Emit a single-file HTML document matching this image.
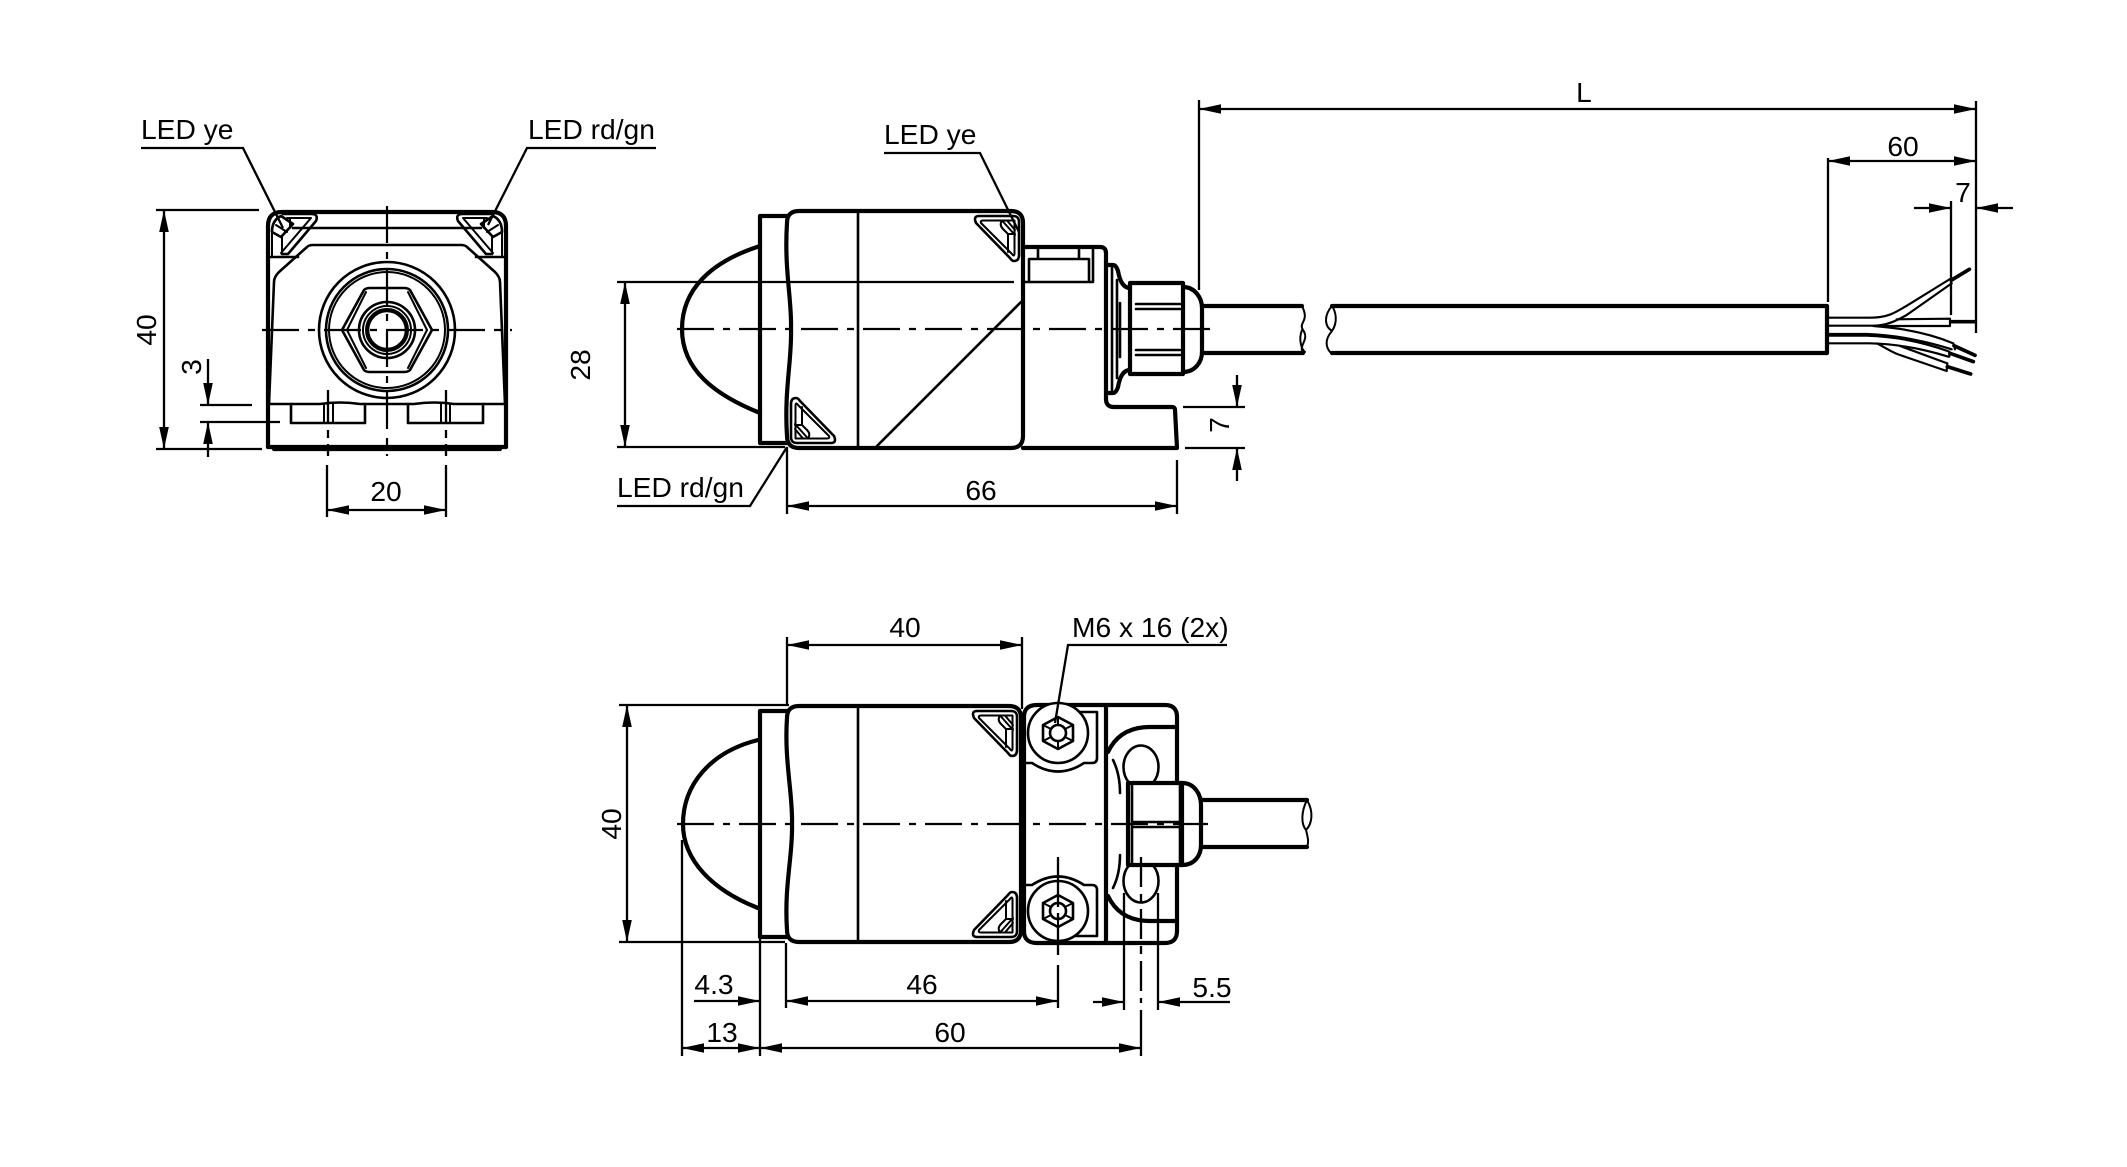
<!DOCTYPE html>
<html><head><meta charset="utf-8"><style>
html,body{margin:0;padding:0;background:#fff}
svg{display:block}
text{font-family:"Liberation Sans",sans-serif;font-size:28.2px;fill:#000}
.k{stroke:#000;fill:none;stroke-linecap:round;stroke-linejoin:round}
.t{stroke-width:4.2}
.m{stroke-width:2.6}
.s{stroke-width:2}
.w{fill:#fff}
.c{stroke:#000;stroke-width:2.2;fill:none;stroke-dasharray:37 9 7 9}
.d{stroke:#000;stroke-width:2.3;fill:none}
</style></head><body>
<svg xmlns="http://www.w3.org/2000/svg" width="2127" height="1167" viewBox="0 0 2127 1167">
<defs>
<marker id="a" markerUnits="userSpaceOnUse" markerWidth="24" markerHeight="12" refX="22" refY="5.5" orient="auto-start-reverse"><path d="M22,5.5 L0,0.7 L0,10.3Z" fill="#000"/></marker>
<g id="led">
<path class="k m" d="M-44,5 H-10 Q-4,5 -4,11 V44 Q-4,50 -9,50 Q-11,50 -13,47 L-47,12 Q-50,5 -44,5Z"/>
<path class="k s" d="M-40,9.5 H-8.5 V43 Q-9,46 -11,43 L-42,12 Q-43,9.5 -40,9.5Z"/>
<path class="k s" d="M-21,9.5 Q-24,14 -20,18 L-15,23 H-8 M-15,23 V41 M-21,9.5 L-8,24 M-16,9.5 L-8,19"/>
</g>
</defs>

<!-- FRONT VIEW -->
<path class="k t" d="M268,447 V226 Q268,212 282,212 H492 Q506,212 506,226 V447"/>
<path class="k t" d="M268,447 L506,447 M274,449 H500"/>
<path class="k m" d="M268,257 H298 M476,257 H506 M293,228 H481"/>
<path class="k m" d="M269,404 L274,282 Q274,277 279,272 L307,247 Q309,245 313,245 H461 Q465,245 467,247 L495,272 Q500,277 500,282 L505,404"/>
<path class="k m" d="M269,404 H320 Q340,401 360,404 H414 Q434,401 454,404 H505"/>
<path class="k m" d="M291,404 V423 H365 V404 M408,404 V423 H483 V404"/>
<path class="k s" d="M324,404 V423 M333,404 V423 M441,404 V423 M450,404 V423"/>
<g id="fl"><path class="k m" d="M283,214 H311 Q319,214 316,221 L288,254 H282"/>
<path class="k s" d="M287,218 H311 L281,253"/>
<path class="k m" d="M272,232 Q272,220 281,216 L293,224 L281,237 Z"/>
<path class="k s" d="M282,237 V254 M272,232 V257 M290,218 V228 M276,225 L287,232"/></g>
<use href="#fl" transform="translate(774,0) scale(-1,1)"/>
<circle class="k m" cx="387" cy="330" r="68"/>
<circle class="k m" cx="387" cy="330" r="61"/>
<circle class="k s" cx="387" cy="330" r="58"/>
<path class="k m" d="M342,330 L364,290 Q366,288 370,288 H404 Q408,288 410,290 L432,330 L410,370 Q408,372 404,372 H370 Q366,372 364,370Z"/>
<path class="k s" d="M347,330 L366,292 M427,330 L408,292 M347,330 L366,368 M427,330 L408,368"/>
<circle class="k m" cx="387" cy="330" r="28"/>
<circle class="k s" cx="387" cy="330" r="24"/>
<circle class="k s" cx="387" cy="330" r="21"/>
<circle class="k m" cx="387" cy="330" r="19"/>
<path class="c" d="M262,330 H512 M387,206 V456"/>
<path class="d" d="M328,390 V456" stroke-dasharray="34 6 8 6"/>
<path class="d" d="M446,390 V456" stroke-dasharray="34 6 8 6"/>
<!-- front dims -->
<path class="d" d="M141,148 H243 L283,228 M656,148 H527 L488,225"/>
<path class="d" d="M156,210 H259 M156,449 H262 M200,405 H252 M200,422 H280"/>
<line class="d" x1="164" y1="210" x2="164" y2="449" marker-start="url(#a)" marker-end="url(#a)"/>
<line class="d" x1="208" y1="359" x2="208" y2="405" marker-end="url(#a)"/>
<line class="d" x1="208" y1="457" x2="208" y2="422" marker-end="url(#a)"/>
<path class="d" d="M327,465 V517 M446,465 V517"/>
<line class="d" x1="327" y1="510" x2="446" y2="510" marker-start="url(#a)" marker-end="url(#a)"/>
<text x="141" y="139">LED ye</text>
<text x="528" y="139">LED rd/gn</text>
<text x="386" y="501" text-anchor="middle">20</text>
<text transform="translate(156,330) rotate(-90)" text-anchor="middle">40</text>
<text transform="translate(201,367) rotate(-90)" text-anchor="middle">3</text>

<!-- SIDE VIEW -->
<path class="k t" d="M760,246 C710,262 682,290 682,329 C682,370 715,395 760,413"/>
<path class="k t" d="M787,216 H760 V443 H787"/>
<path class="k t w" d="M799,211 H1011 Q1023,211 1023,223 V436 Q1023,448 1011,448 H799 Q787,448 787,436 C784,390 792,360 791,329 C792,300 784,270 787,223 Q787,211 799,211Z"/>
<path class="k m" d="M858,212 V447 M876,447 L1021,302"/>
<use href="#led" transform="translate(1023,211)"/>
<use href="#led" transform="translate(787,448) rotate(180)"/>
<path class="k t" d="M1024,247 H1100 Q1106,247 1106,253 V399 Q1106,407 1114,407 H1172 Q1175,407 1175,410 L1177,448 H1023"/>
<path class="k m" d="M1029,259 H1089 V282 H1029Z M1038,247 V259 M1079,247 V259 M1093,247 V282 H1024"/>
<path class="k t" d="M1108,265 H1113 Q1116,265 1118,271 Q1121,288 1130,288 M1108,393 H1113 Q1116,393 1118,387 Q1121,370 1130,370"/>
<path class="k m" d="M1112,267 V391 M1117,280 V378 M1120,303 V357"/>
<path class="k t w" d="M1130,283 H1183 V374 H1130Z"/>
<path class="k m" d="M1136,304 H1180 M1136,309 H1180 M1136,350 H1180 M1136,355 H1180"/>
<path class="k t" d="M1183,287 C1195,287 1202,298 1202,308 V352 C1202,362 1195,372 1183,372"/>
<path class="k t" d="M1202,306 H1302 M1202,353 H1303 M1332,306 H1827 V353 H1332"/>
<path class="k s" d="M1302,306 C1310,322 1298,322 1303,330 C1310,340 1298,345 1303,353 M1302,330 C1298,340 1302,350 1305,352"/>
<path class="k s" d="M1332,306 C1324,315 1324,326 1332,331 C1338,322 1336,312 1332,306 M1332,331 C1324,340 1326,348 1331,353"/>
<path class="c" d="M677,329 H1212"/>
<!-- wires -->
<g transform="translate(1700,80) scale(.33333)">
<g class="k" style="stroke-width:6.5">
<path d="M385,713 H510 C570,713 590,695 640,665 L750,597 M385,737 H520 C560,737 590,722 620,705 L755,610 M750,597 L755,610"/>
<path d="M590,718 L750,716 V738 H530"/>
<path d="M520,738 C620,745 700,765 760,790 L765,808 M385,762 H500 C600,765 700,790 755,808"/>
<path d="M385,767 H500 C600,770 680,790 748,815 L748,830 M385,790 H510 C600,792 680,810 745,830"/>
<path d="M530,790 C560,805 580,820 600,825 L740,873 L742,850 M600,798 L742,850"/>
</g>
<g class="k" style="stroke-width:11">
<path d="M755,600 L808,568 M752,725 H825 M762,797 L825,826 M750,820 L820,845 M742,860 L812,882"/>
</g>
</g>
<!-- side dims -->
<path class="d" d="M884,153 H980 L1019,232 M617,506 H750 L787,447"/>
<path class="d" d="M617,282 H1014 M617,447 H785"/>
<line class="d" x1="625" y1="282" x2="625" y2="447" marker-start="url(#a)" marker-end="url(#a)"/>
<path class="d" d="M787,447 V514 M1177,460 V514"/>
<line class="d" x1="787" y1="506" x2="1177" y2="506" marker-start="url(#a)" marker-end="url(#a)"/>
<path class="d" d="M1183,407 H1245 M1185,448 H1245"/>
<line class="d" x1="1237" y1="375" x2="1237" y2="407" marker-end="url(#a)"/>
<line class="d" x1="1237" y1="481" x2="1237" y2="448" marker-end="url(#a)"/>
<path class="d" d="M1199,100 V290 M1976,101 V333 M1828,158 V302 M1951,201 V315 M1951,322 H1976"/>
<line class="d" x1="1199" y1="109" x2="1976" y2="109" marker-start="url(#a)" marker-end="url(#a)"/>
<line class="d" x1="1828" y1="161" x2="1976" y2="161" marker-start="url(#a)" marker-end="url(#a)"/>
<line class="d" x1="1914" y1="208" x2="1951" y2="208" marker-end="url(#a)"/>
<line class="d" x1="2013" y1="208" x2="1976" y2="208" marker-end="url(#a)"/>
<text x="884" y="144">LED ye</text>
<text x="617" y="497">LED rd/gn</text>
<text x="981" y="500" text-anchor="middle">66</text>
<text x="1584" y="102" text-anchor="middle">L</text>
<text x="1903" y="156" text-anchor="middle">60</text>
<text x="1963" y="202" text-anchor="middle">7</text>
<text transform="translate(590,365) rotate(-90)" text-anchor="middle">28</text>
<text transform="translate(1229,425) rotate(-90)" text-anchor="middle">7</text>

<!-- BOTTOM VIEW -->
<path class="k t" d="M758,740 C710,752 683,785 683,824 C683,860 712,890 758,908"/>
<path class="k t" d="M787,711 H760 V937 H787"/>
<path class="k t w" d="M799,706 H1009 Q1021,706 1021,718 V930 Q1021,942 1009,942 H799 Q787,942 787,930 C784,885 793,855 792,824 C793,795 784,760 787,718 Q787,706 799,706Z"/>
<path class="k m" d="M858,707 V941"/>
<use href="#led" transform="translate(1021,706)"/>
<use href="#led" transform="translate(1021,942) scale(1,-1)"/>
<!-- bracket -->
<path class="k t" d="M1024,717 Q1024,705 1037,705 H1165 Q1177,705 1177,717 V931 Q1177,943 1165,943 H1037 Q1024,943 1024,931 Z"/>
<path class="k t" d="M1106,706 V942"/>
<path class="k t" d="M1108,752 C1116,735 1130,727 1150,727 H1176 M1108,896 C1116,913 1130,921 1150,921 H1176"/>
<path class="k m" d="M1024,763 H1032 Q1058,780 1084,763 H1092 Q1097,763 1097,758 V712 H1072 M1024,885 H1032 Q1058,868 1084,885 H1092 Q1097,885 1097,890 V936 H1072"/>
<circle class="k m w" cx="1058" cy="733" r="30"/>
<circle class="k m w" cx="1058" cy="911" r="30"/>
<g id="hex"><path class="k m" d="M1058,717 L1073,725 V741 L1058,749 L1043,741 V725Z"/>
<circle class="k m" cx="1058" cy="733" r="8"/>
<path class="k s" d="M1058,717 V725 M1073,741 L1065,737 M1043,741 L1051,737 M1058,749 V741 M1073,725 L1065,729 M1043,725 L1051,729"/></g>
<use href="#hex" transform="translate(0,178)"/>
<ellipse class="k m w" cx="1141" cy="767" rx="17.5" ry="21.5"/>
<ellipse class="k m w" cx="1141" cy="881" rx="17.5" ry="21.5"/>
<path class="k m" d="M1113,760 C1118,770 1120,780 1120,793 M1120,855 C1120,868 1118,878 1113,888"/>
<path class="k t w" d="M1128,783 H1182 V865 H1128Z"/>
<path class="k m" d="M1132,785 V863 M1180,785 V863 M1132,822 H1180 M1132,827 H1180"/>
<path class="k t" d="M1182,783 C1195,783 1201,795 1201,805 V845 C1201,855 1195,865 1182,865"/>
<path class="k t" d="M1201,800 H1307 M1201,847 H1307"/>
<path class="k s" d="M1307,800 C1314,812 1312,824 1306,830 C1308,838 1309,842 1307,847 M1307,800 C1301,812 1301,824 1306,830"/>
<path class="c" d="M677,824 H1208"/>
<path class="d" d="M1058,857 V955" stroke-dasharray="50 6 8 6"/>
<path class="d" d="M1141,857 V1003" stroke-dasharray="30 7 8 7"/>
<!-- bottom dims -->
<path class="d" d="M1055,723 L1068,645 H1227"/>
<path class="d" d="M619,705 H789 M619,942 H785 M787,637 V705 M1022,637 V709"/>
<line class="d" x1="787" y1="645" x2="1022" y2="645" marker-start="url(#a)" marker-end="url(#a)"/>
<line class="d" x1="627" y1="705" x2="627" y2="942" marker-start="url(#a)" marker-end="url(#a)"/>
<path class="d" d="M682,840 V1056 M760,937 V1056 M786,943 V1008 M1058,965 V1008 M1124,893 V1010 M1158,893 V1010 M1141,1010 V1056"/>
<line class="d" x1="694" y1="1001" x2="760" y2="1001" marker-end="url(#a)"/>
<line class="d" x1="786" y1="1001" x2="1058" y2="1001" marker-start="url(#a)" marker-end="url(#a)"/>
<line class="d" x1="1093" y1="1002" x2="1124" y2="1002" marker-end="url(#a)"/>
<line class="d" x1="1230" y1="1002" x2="1158" y2="1002" marker-end="url(#a)"/>
<line class="d" x1="682" y1="1048" x2="760" y2="1048" marker-start="url(#a)" marker-end="url(#a)"/>
<line class="d" x1="760" y1="1048" x2="1141" y2="1048" marker-start="url(#a)" marker-end="url(#a)"/>
<text x="905" y="637" text-anchor="middle">40</text>
<text x="1072" y="637">M6 x 16 (2x)</text>
<text transform="translate(621,824) rotate(-90)" text-anchor="middle">40</text>
<text x="714" y="994" text-anchor="middle">4.3</text>
<text x="922" y="994" text-anchor="middle">46</text>
<text x="1212" y="997" text-anchor="middle">5.5</text>
<text x="722" y="1042" text-anchor="middle">13</text>
<text x="950" y="1042" text-anchor="middle">60</text>
</svg>
</body></html>
